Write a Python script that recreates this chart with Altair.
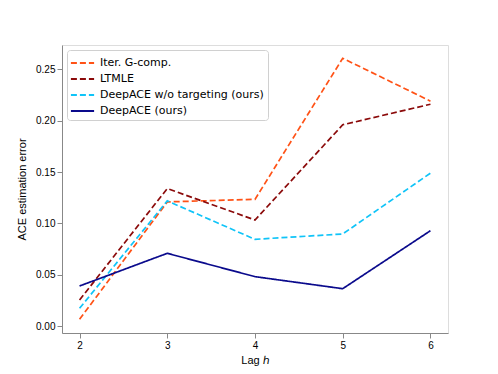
import altair as alt
import pandas as pd

lags = [2, 3, 4, 5, 6]
series_names = ["Iter. G-comp.", "LTMLE", "DeepACE w/o targeting (ours)", "DeepACE (ours)"]
iter_gcomp = [0.0068, 0.121, 0.1235, 0.2607, 0.219]
ltmle = [0.0256, 0.134, 0.1034, 0.196, 0.216]
deepace_wo = [0.0175, 0.122, 0.0846, 0.0898, 0.149]
deepace = [0.0392, 0.071, 0.0483, 0.0366, 0.093]
colors = ["#ff5216", "#8b0a0a", "#10c4f8", "#0a0a8c"]
dashes = [[6, 3], [6, 3], [6, 3], [1, 0]]

rows = []
for name, vals in zip(series_names, [iter_gcomp, ltmle, deepace_wo, deepace]):
    for h, v in zip(lags, vals):
        rows.append({"lag": h, "err": v, "method": name})
df = pd.DataFrame(rows)

font = "DejaVu Sans"

chart = alt.Chart(df).mark_line(strokeWidth=1.7, clip=True).encode(
    x=alt.X("lag:Q", scale=alt.Scale(domain=[1.8, 6.2], nice=False, zero=False),
            axis=alt.Axis(values=lags, format="d", title="Lag ℎ", grid=False,
                          titlePadding=4, titleFontWeight="normal")),
    y=alt.Y("err:Q", scale=alt.Scale(domain=[-0.0065, 0.2736], nice=False, zero=False),
            axis=alt.Axis(values=[0, 0.05, 0.10, 0.15, 0.20, 0.25], format=".2f",
                          title="ACE estimation error", grid=False, titlePadding=8,
                          titleFontWeight="normal")),
    color=alt.Color("method:N", scale=alt.Scale(domain=series_names, range=colors),
                    legend=alt.Legend(title=None, orient="top-left", offset=5,
                                      symbolType="M-1.45,0H1.45", symbolSize=256,
                                      symbolStrokeWidth=2, labelFontSize=11,
                                      labelFont=font, labelColor="black",
                                      labelLimit=400,
                                      fillColor="white", strokeColor="#d0d0d0",
                                      cornerRadius=3, padding=4, rowPadding=2,
                                      labelOffset=8.5, symbolOffset=2.5)),
    strokeDash=alt.StrokeDash("method:N", scale=alt.Scale(domain=series_names, range=dashes),
                              legend=None),
    order=alt.Order("lag:Q"),
).properties(
    width=386, height=288,
    autosize=alt.AutoSizeParams(type="none"),
    padding={"left": 54, "top": 37, "right": 40, "bottom": 40},
).configure_view(
    stroke="black", strokeWidth=1, fill="white"
).configure_axis(
    domain=False, tickColor="black", tickSize=4, tickWidth=0.8,
    labelFont=font, labelFontSize=11, labelColor="black", labelPadding=3,
    titleFont=font, titleFontSize=11, titleColor="black", titleFontWeight="normal",
).configure(background="white")

chart.save("out.html", embed_options={"renderer": "svg", "actions": False})
